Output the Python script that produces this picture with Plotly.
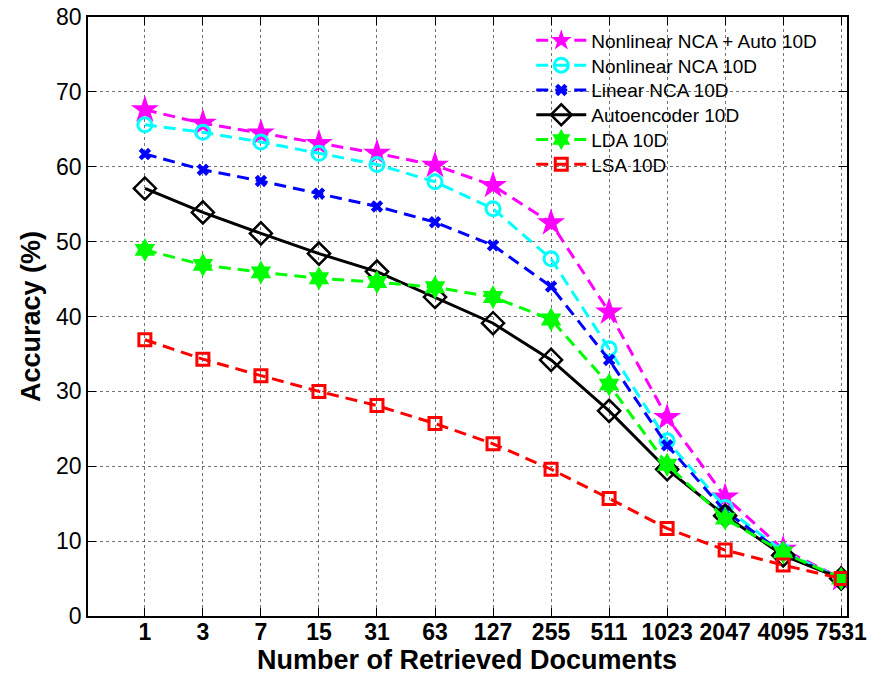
import plotly.graph_objects as go

docs = ["1", "3", "7", "15", "31", "63", "127", "255", "511", "1023", "2047", "4095", "7531"]

nca_auto = [67.6, 65.8, 64.5, 63.1, 61.8, 60.2, 57.5, 52.5, 40.6, 26.5, 15.9, 8.9, 5.0]
nca_nl = [65.6, 64.6, 63.3, 61.8, 60.3, 58.0, 54.4, 47.7, 35.7, 23.4, 14.5, 8.6, 5.0]
nca_lin = [61.7, 59.6, 58.1, 56.4, 54.7, 52.6, 49.5, 44.0, 34.2, 22.8, 14.0, 8.4, 5.0]
autoenc = [57.1, 53.9, 51.1, 48.4, 46.0, 42.6, 39.1, 34.2, 27.4, 19.6, 13.4, 8.1, 5.0]
lda = [48.9, 46.9, 45.9, 45.1, 44.6, 43.9, 42.6, 39.6, 30.9, 20.2, 13.0, 8.5, 5.0]
lsa = [36.9, 34.3, 32.1, 30.0, 28.1, 25.7, 23.0, 19.6, 15.7, 11.7, 8.8, 6.8, 5.0]

series_names = ["Nonlinear NCA + Auto 10D", "Nonlinear NCA 10D", "Linear NCA 10D",
                "Autoencoder 10D", "LDA 10D", "LSA 10D"]
y_ticks = [0, 10, 20, 30, 40, 50, 60, 70, 80]

DASH = "12px,7px"
styles = [
    dict(color="#ff00ff", dash=DASH, symbol="star", size=21, mlw=0),
    dict(color="#00ffff", dash=DASH, symbol="circle-open", size=14, mlw=3),
    dict(color="#0000ff", dash=DASH, symbol="x", size=11, mlw=0),
    dict(color="#000000", dash="solid", symbol="diamond-open", size=17, mlw=2.5),
    dict(color="#00ff00", dash=DASH, symbol="hexagram", size=18, mlw=0),
    dict(color="#ff0000", dash=DASH, symbol="square-open", size=12, mlw=3),
]
data = [nca_auto, nca_nl, nca_lin, autoenc, lda, lsa]

W, H = 888, 680
ML, MR, MT, MB = 88, 41, 17, 64
PH = H - MT - MB

FONT = "Liberation Sans, Arial, sans-serif"
tick_font = dict(family=FONT, size=23, color="black")
title_font = dict(family=FONT, size=27, color="black")
legend_font = dict(family=FONT, size=19, color="black")

fig = go.Figure()
legend_layouts = {}
for i, (name, vals, st) in enumerate(zip(series_names, data, styles)):
    lname = "legend" if i == 0 else f"legend{i + 1}"
    fig.add_trace(go.Scatter(
        x=docs, y=vals, name=name, mode="lines+markers", legend=lname,
        line=dict(color=st["color"], width=3, dash=st["dash"]),
        marker=dict(symbol=st["symbol"], size=st["size"], color=st["color"],
                    line=dict(color=st["color"], width=st["mlw"])),
    ))
    row_center = 41.5 + 24.8 * i          # pixel row of each legend entry
    top_px = row_center - 20
    legend_layouts[lname] = dict(
        x=0.584, y=1 - (top_px - MT) / PH, xanchor="left", yanchor="top",
        bgcolor="rgba(0,0,0,0)", borderwidth=0, font=legend_font,
        itemwidth=50,
    )

fig.update_layout(
    width=W, height=H,
    margin=dict(l=ML, r=MR, t=MT, b=MB, autoexpand=False),
    paper_bgcolor="white", plot_bgcolor="white",
    font=dict(family=FONT, color="black"),
    showlegend=True,
    xaxis=dict(
        type="category", range=[-0.98, 12.1], automargin=False,
        tickfont=tick_font, tickprefix="<b>", ticksuffix="</b>",
        ticklabelstandoff=-5,
        showline=True, linecolor="black", linewidth=1.5, mirror="ticks",
        ticks="inside", ticklen=8, tickcolor="black",
        showgrid=True, gridcolor="rgba(0,0,0,0.55)", griddash="dot", gridwidth=1,
        zeroline=False,
    ),
    yaxis=dict(
        range=[0, 80], tickvals=y_ticks, automargin=False,
        title=dict(text="<b>Accuracy (%)</b>", font=title_font, standoff=8),
        tickfont=tick_font, tickprefix="<b>", ticksuffix="</b>",
        showline=True, linecolor="black", linewidth=1.5, mirror="ticks",
        ticks="inside", ticklen=8, tickcolor="black",
        showgrid=True, gridcolor="rgba(0,0,0,0.55)", griddash="dot", gridwidth=1,
        zeroline=False,
    ),
    annotations=[dict(
        text="<b>Number of Retrieved Documents</b>", font=title_font,
        xref="paper", yref="paper", x=(467 - ML) / (W - ML - MR), y=-(660 - (H - MB)) / PH,
        xanchor="center", yanchor="middle", showarrow=False,
    )],
    **legend_layouts,
)

fig.write_html("out.html", config={"displayModeBar": False},
               post_script="document.body.style.margin='0px';")
